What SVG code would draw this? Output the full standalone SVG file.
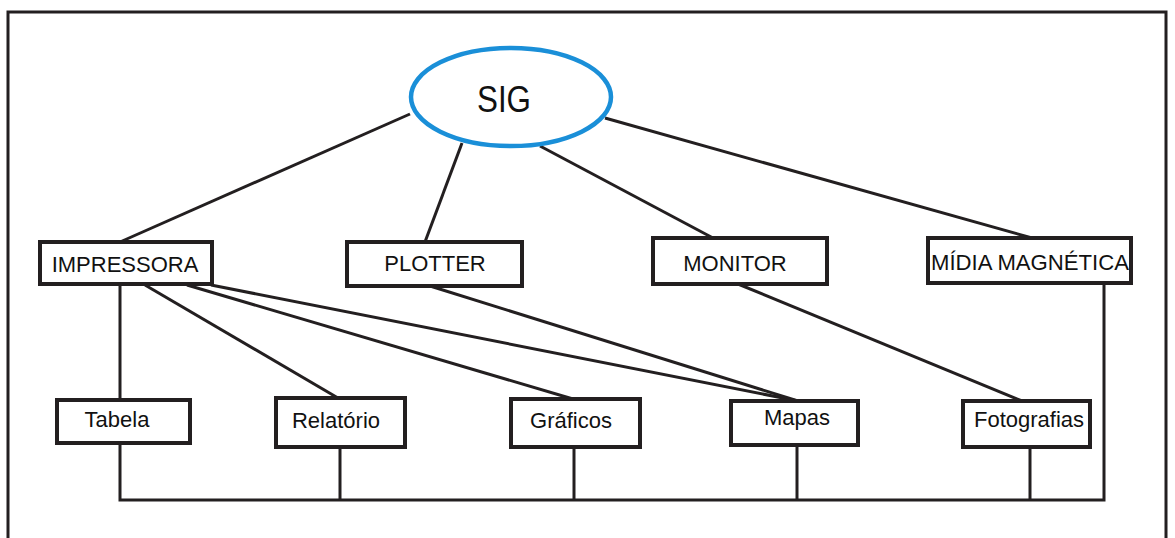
<svg xmlns="http://www.w3.org/2000/svg" width="1175" height="538" viewBox="0 0 1175 538">
<style>
.box{fill:#fff;stroke:#231f20;stroke-width:4}
.lbl{font-family:"Liberation Sans",Arial,sans-serif;font-size:22px;fill:#111;text-anchor:middle}
.con{stroke:#231f20;stroke-width:3;fill:none}
</style>
<rect x="0" y="0" width="1175" height="538" fill="#fff"/>
<rect x="8" y="12" width="1158" height="540" fill="none" stroke="#231f20" stroke-width="3"/>
<g id="connectors">
<line class="con" x1="410" y1="114" x2="120" y2="242"/>
<line class="con" x1="462" y1="143" x2="425" y2="242"/>
<line class="con" x1="540" y1="146" x2="713" y2="238"/>
<line class="con" x1="605" y1="118" x2="1032" y2="238"/>
<line class="con" x1="120" y1="285" x2="120" y2="400"/>
<line class="con" x1="145" y1="285" x2="338" y2="398"/>
<line class="con" x1="187" y1="285" x2="573" y2="399"/>
<line class="con" x1="211" y1="285" x2="798" y2="401"/>
<line class="con" x1="430" y1="286" x2="798" y2="401"/>
<line class="con" x1="738" y1="284" x2="1022" y2="401"/>
<polyline class="con" points="120,443 120,500 1104,500 1104,283"/>
<line class="con" x1="340" y1="447" x2="340" y2="500"/>
<line class="con" x1="574" y1="447" x2="574" y2="500"/>
<line class="con" x1="797" y1="445" x2="797" y2="500"/>
<line class="con" x1="1030" y1="447" x2="1030" y2="500"/>
</g>
<g id="sig">
<ellipse cx="511" cy="97" rx="100" ry="49" fill="#fff" stroke="#1a8fd8" stroke-width="4.5"/>
<text x="504" y="112" font-family="'Liberation Sans',Arial,sans-serif" font-size="37" fill="#111" text-anchor="middle" textLength="54" lengthAdjust="spacingAndGlyphs">SIG</text>
</g>
<g id="impressora"><rect class="box" x="40" y="242" width="172" height="42"/><text class="lbl" x="125" y="272">IMPRESSORA</text></g>
<g id="plotter"><rect class="box" x="347" y="242" width="175" height="44"/><text class="lbl" x="435" y="271">PLOTTER</text></g>
<g id="monitor"><rect class="box" x="653" y="238" width="174" height="46"/><text class="lbl" x="735" y="271">MONITOR</text></g>
<g id="midia"><rect class="box" x="928" y="238" width="203" height="45"/><text class="lbl" x="1030" y="270" textLength="198" lengthAdjust="spacingAndGlyphs">MÍDIA MAGNÉTICA</text></g>
<g id="tabela"><rect class="box" x="57" y="400" width="133" height="43"/><text class="lbl" x="117" y="427">Tabela</text></g>
<g id="relatorio"><rect class="box" x="276" y="398" width="129" height="49"/><text class="lbl" x="336" y="428">Relatório</text></g>
<g id="graficos"><rect class="box" x="511" y="399" width="129" height="48"/><text class="lbl" x="571" y="428">Gráficos</text></g>
<g id="mapas"><rect class="box" x="731" y="401" width="127" height="44"/><text class="lbl" x="797" y="425">Mapas</text></g>
<g id="fotografias"><rect class="box" x="963" y="401" width="127" height="46"/><text class="lbl" x="1029" y="427">Fotografias</text></g>
</svg>
